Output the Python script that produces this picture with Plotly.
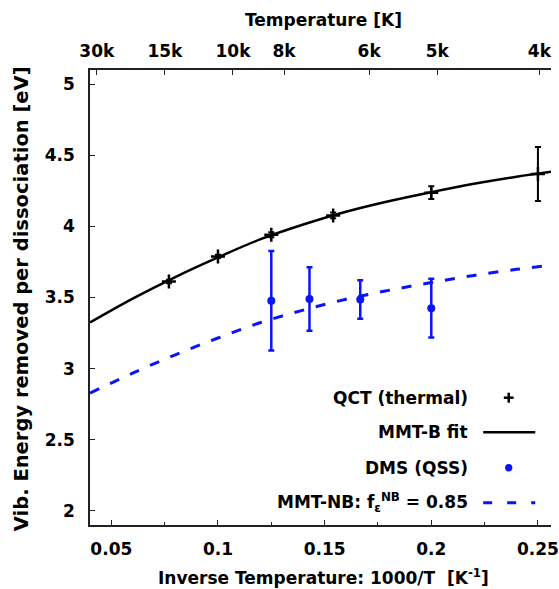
import plotly.graph_objects as go

# ---------------- data ----------------
qct_x = [0.077, 0.100, 0.125, 0.154, 0.200, 0.250]
qct_y = [3.613, 3.789, 3.941, 4.077, 4.237, 4.369]
qct_err = [0.012, 0.012, 0.018, 0.02, 0.045, 0.19]

dms_x = [0.125, 0.1429, 0.1667, 0.200]
dms_y = [3.477, 3.489, 3.486, 3.425]
dms_err = [0.35, 0.223, 0.136, 0.207]

fit_x = [0.04, 0.06, 0.08, 0.10, 0.12, 0.14, 0.16, 0.18, 0.20, 0.22, 0.24, 0.2565]
mmtb_y = [3.324, 3.492, 3.644, 3.782, 3.910, 4.013, 4.103, 4.177, 4.241, 4.300, 4.350, 4.385]
mmtnb_y = [2.828, 2.968, 3.097, 3.215, 3.324, 3.411, 3.488, 3.550, 3.605, 3.655, 3.698, 3.727]

bottom_ticks = [0.05, 0.10, 0.15, 0.20, 0.25]
bottom_labels = ["0.05", "0.1", "0.15", "0.2", "0.25"]
left_ticks = [2, 2.5, 3, 3.5, 4, 4.5, 5]
left_labels = ["2", "2.5", "3", "3.5", "4", "4.5", "5"]
top_temps = [30000, 15000, 10000, 8000, 6000, 5000, 4000]
top_labels = ["30k", "15k", "10k", "8k", "6k", "5k", "4k"]

legend_labels = ["QCT (thermal)", "MMT-B fit", "DMS (QSS)",
                 "MMT-NB: f<sub>ε</sub><sup>NB</sup> = 0.85"]

# ---------------- styling ----------------
FONT = "DejaVu Sans, Verdana, sans-serif"
BLUE = "#0a14f5"
AX = "#222222"
W, H = 559, 589
L, R, T, B = 90, 0, 70, 64
PW, PH = W - L - R, H - T - B


def px(x):
    return (x - L) / PW


def py(y):
    return (H - B - y) / PH


def bold(lst):
    return ["<b>%s</b>" % s for s in lst]


fig = go.Figure()

fig.add_trace(go.Scatter(x=fit_x, y=mmtnb_y, mode="lines", line_shape="spline",
                         line=dict(color=BLUE, width=3, dash="10px,12px"),
                         hoverinfo="skip", showlegend=False))
fig.add_trace(go.Scatter(x=fit_x, y=mmtb_y, mode="lines", line_shape="spline",
                         line=dict(color="black", width=2.5),
                         hoverinfo="skip", showlegend=False))
fig.add_trace(go.Scatter(x=qct_x, y=qct_y, mode="markers",
                         marker=dict(symbol="cross-thin", size=10, color="black",
                                     line=dict(color="black", width=2.5)),
                         error_y=dict(type="data", array=qct_err, color="black",
                                      thickness=2, width=3),
                         showlegend=False))
fig.add_trace(go.Scatter(x=dms_x, y=dms_y, mode="markers",
                         marker=dict(symbol="circle", size=8, color=BLUE),
                         error_y=dict(type="data", array=dms_err, color=BLUE,
                                      thickness=2.5, width=3),
                         showlegend=False))
# invisible trace to anchor the top axis
fig.add_trace(go.Scatter(x=[1000 / t for t in top_temps], y=[None] * len(top_temps),
                         xaxis="x2", yaxis="y", mode="markers",
                         showlegend=False, hoverinfo="skip"))

tickfont = dict(family=FONT, size=17, color="black")

fig.update_layout(
    width=W, height=H,
    margin=dict(l=L, r=R, t=T, b=B, pad=0),
    paper_bgcolor="white", plot_bgcolor="white",
    font=dict(family=FONT, size=17, color="black"),
    showlegend=False,
    xaxis=dict(range=[0.04, 0.04 + PW / 2170], tickvals=bottom_ticks,
               ticktext=bold(bottom_labels),
               ticks="inside", ticklen=5, tickwidth=1.2, tickcolor=AX,
               minor=dict(ticks="inside", dtick=0.025, tick0=0.05, ticklen=3, tickcolor=AX),
               showline=True, linecolor=AX, linewidth=1.5, mirror=False,
               showgrid=False, zeroline=False, tickfont=tickfont,
               ticklabelstandoff=8, ticklabeloverflow="allow"),
    xaxis2=dict(range=[0.03, 0.03 + PW / 2078], overlaying="x", side="top",
                anchor="y", tickvals=[1000 / t for t in top_temps],
                ticktext=bold(top_labels),
                ticks="inside", ticklen=5, tickwidth=1.2, tickcolor=AX,
                showline=True, linecolor=AX, linewidth=1.5,
                showgrid=False, zeroline=False, tickfont=tickfont,
                ticklabelstandoff=4, ticklabeloverflow="allow"),
    yaxis=dict(range=[1.9, 5.1], tickvals=left_ticks, ticktext=bold(left_labels),
               ticks="inside", ticklen=5, tickwidth=1.2, tickcolor=AX,
               showline=True, linecolor=AX, linewidth=1.5, mirror=False,
               showgrid=False, zeroline=False, tickfont=tickfont,
               ticklabelstandoff=10),
)

annotations = [
    dict(text="<b>Temperature [K]</b>", x=px(328), y=py(20), xref="paper", yref="paper",
         showarrow=False, xanchor="center", yanchor="middle",
         font=dict(family=FONT, size=17)),
    dict(text="<b>Inverse Temperature: 1000/T  [K<sup>-1</sup>]</b>", x=px(328), y=py(577),
         xref="paper", yref="paper", showarrow=False, xanchor="center", yanchor="middle",
         font=dict(family=FONT, size=17)),
    dict(text="<b>Vib. Energy removed per dissociation [eV]</b>", x=px(20), y=py(299),
         xref="paper", yref="paper", showarrow=False, textangle=-90,
         xanchor="center", yanchor="middle",
         font=dict(family=FONT, size=19.5)),
]
rows_y = [397.7, 432.3, 467.7, 502.7]
for lab, ry in zip(legend_labels, rows_y):
    annotations.append(dict(text="<b>%s</b>" % lab, x=px(477), y=py(ry),
                            xref="paper", yref="paper",
                            showarrow=False, xanchor="right", yanchor="middle",
                            font=dict(family=FONT, size=17)))
fig.update_layout(annotations=annotations)

shapes = [
    # QCT "+"
    dict(type="line", xref="paper", yref="paper", x0=px(511), x1=px(521),
         y0=py(rows_y[0]), y1=py(rows_y[0]), line=dict(color="black", width=2.5)),
    dict(type="line", xref="paper", yref="paper", x0=px(516), x1=px(516),
         y0=py(rows_y[0] - 5), y1=py(rows_y[0] + 5), line=dict(color="black", width=2.5)),
    # MMT-B line
    dict(type="line", xref="paper", yref="paper", x0=px(490), x1=px(543),
         y0=py(rows_y[1]), y1=py(rows_y[1]), line=dict(color="black", width=2.5)),
    # DMS dot
    dict(type="circle", xref="paper", yref="paper", x0=px(512.3), x1=px(519.7),
         y0=py(rows_y[2] - 3.7), y1=py(rows_y[2] + 3.7),
         fillcolor=BLUE, line=dict(color=BLUE, width=0)),
    # MMT-NB dashed
    dict(type="line", xref="paper", yref="paper", x0=px(490), x1=px(543),
         y0=py(rows_y[3]), y1=py(rows_y[3]),
         line=dict(color=BLUE, width=3, dash="9px,15px")),
]
fig.update_layout(shapes=shapes)

fig.write_html("out.html")
